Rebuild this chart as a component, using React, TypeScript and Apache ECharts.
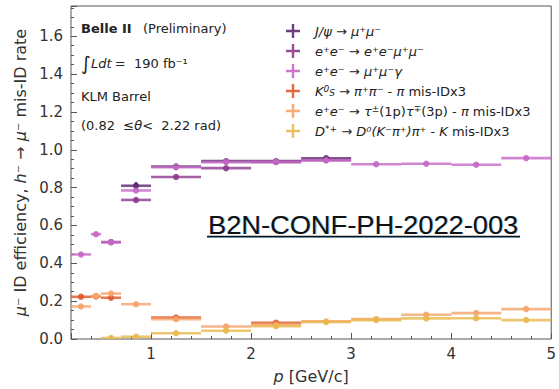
import React, { useEffect, useRef } from "react";
import * as echarts from "echarts";

// ---- data ----
const binCenters = [0.3, 0.45, 0.6, 0.85, 1.25, 1.75, 2.25, 2.75, 3.25, 3.75, 4.25, 4.75];
const binLows = [0.2, 0.4, 0.5, 0.7, 1.0, 1.5, 2.0, 2.5, 3.0, 3.5, 4.0, 4.5];
const binHighs = [0.4, 0.5, 0.7, 1.0, 1.5, 2.0, 2.5, 3.0, 3.5, 4.0, 4.5, 5.0];

const jpsiValues = [null, null, null, 0.81, 0.912, 0.94, 0.94, 0.955, null, null, null, null];
const jpsiErrors = [0, 0, 0, 0.02, 0.008, 0.005, 0.005, 0.01, 0, 0, 0, 0];
const eeMumuValues = [null, null, 0.512, 0.735, 0.856, 0.903, 0.935, 0.945, null, null, null, null];
const mumuGammaValues = [0.447, 0.554, 0.512, 0.785, 0.908, 0.935, 0.937, 0.945, 0.924, 0.926, 0.921, 0.956];
const ksValues = [0.223, 0.225, 0.218, null, 0.113, null, 0.086, null, null, null, null, null];
const tauValues = [0.172, 0.228, 0.24, 0.184, 0.105, 0.066, 0.075, 0.093, 0.105, 0.128, 0.137, 0.158];
const dstarValues = [null, null, 0.005, 0.012, 0.03, 0.044, 0.068, 0.09, 0.1, 0.109, 0.11, 0.1];
const noErrors = [0, 0, 0, 0, 0, 0, 0, 0, 0, 0, 0, 0];

const seriesNames = [
  "J/ψ → μ⁺μ⁻",
  "e⁺e⁻ → e⁺e⁻μ⁺μ⁻",
  "e⁺e⁻ → μ⁺μ⁻γ",
  "K⁰S → π⁺π⁻ - π mis-IDx3",
  "e⁺e⁻ → τ±(1p)τ∓(3p) - π mis-IDx3",
  "D*⁺ → D⁰(K⁻π⁺)π⁺ - K mis-IDx3",
];
const seriesValues = [jpsiValues, eeMumuValues, mumuGammaValues, ksValues, tauValues, dstarValues];
const seriesErrors = [jpsiErrors, noErrors, noErrors, noErrors, noErrors, noErrors];

// ---- styles ----
const colors = ["#5e2a6e", "#8c3a8e", "#c468c6", "#e0582a", "#f5a46c", "#e8b84e"];
const FONT = "DejaVu Sans";

const legendRich: Record<string, string> = {
  [seriesNames[0]]: "{i|J/ψ → μ⁺μ⁻}",
  [seriesNames[1]]: "{i|e⁺e⁻ → e⁺e⁻μ⁺μ⁻}",
  [seriesNames[2]]: "{i|e⁺e⁻ → μ⁺μ⁻γ}",
  [seriesNames[3]]: "{i|K}{sup|0}{sub|S}{i| → π⁺π⁻}{n| - }{i|π}{n| mis-IDx3}",
  [seriesNames[4]]: "{i|e⁺e⁻ → τ}{sup|±}{n|(1p)}{i|τ}{sup|∓}{n|(3p) - }{i|π}{n| mis-IDx3}",
  [seriesNames[5]]: "{i|D}{sup|*+}{i| → D⁰(K⁻π⁺)π⁺}{n| - }{i|K}{n| mis-IDx3}",
};

function buildData(values: (number | null)[], errors: number[]) {
  const out: number[][] = [];
  binCenters.forEach((c, i) => {
    const v = values[i];
    if (v !== null && v !== undefined) out.push([c, v, binLows[i], binHighs[i], errors[i]]);
  });
  return out;
}

function makeRender(color: string) {
  return (params: any, api: any) => {
    const x = api.value(0);
    const y = api.value(1);
    const lo = api.value(2);
    const hi = api.value(3);
    const e = api.value(4);
    const c = api.coord([x, y]);
    const l = api.coord([lo, y]);
    const h = api.coord([hi, y]);
    const children: any[] = [
      {
        type: "line",
        shape: { x1: l[0], y1: l[1], x2: h[0], y2: h[1] },
        style: { stroke: color, lineWidth: 2.6, opacity: 0.8 },
      },
    ];
    if (e > 0) {
      const t = api.coord([x, y + e]);
      const b = api.coord([x, y - e]);
      children.push({
        type: "line",
        shape: { x1: t[0], y1: t[1], x2: b[0], y2: b[1] },
        style: { stroke: color, lineWidth: 2.4, opacity: 0.85 },
      });
    }
    children.push({
      type: "circle",
      shape: { cx: c[0], cy: c[1], r: 3.2 },
      style: { fill: color, opacity: 0.9 },
    });
    return { type: "group", children };
  };
}

const crossIcon = "path://M0,5.8H14V8.2H0Z M5.8,0H8.2V14H5.8Z";

export default function App() {
  const ref = useRef<HTMLDivElement>(null);
  useEffect(() => {
    if (!ref.current) return;
    const chart = echarts.init(ref.current, undefined, { renderer: "svg" });
    const textColor = "#333";
    const option: any = {
      animation: false,
      backgroundColor: "#ffffff",
      grid: {
        left: 71,
        right: 2.5,
        top: 6,
        bottom: 49,
        show: true,
        borderColor: "#555",
        borderWidth: 1,
      },
      xAxis: {
        type: "value",
        min: 0.2,
        max: 5,
        minInterval: 1,
        maxInterval: 1,
        name: "{i|p} [GeV/c]",
        nameLocation: "middle",
        nameGap: 29,
        nameTextStyle: {
          fontFamily: FONT,
          fontSize: 16,
          color: textColor,
          rich: { i: { fontFamily: FONT, fontSize: 16, fontStyle: "italic", color: textColor } },
        },
        axisLine: { show: false },
        axisTick: { inside: true, length: 6, lineStyle: { color: "#555" } },
        minorTick: { show: true, splitNumber: 5, length: 3, lineStyle: { color: "#555" } },
        splitLine: { show: false },
        axisLabel: {
          margin: 7,
          fontFamily: FONT,
          fontSize: 15,
          color: textColor,
          showMinLabel: false,
          formatter: (v: number) => (Math.abs(v - Math.round(v)) < 1e-6 ? String(Math.round(v)) : ""),
        },
      },
      yAxis: {
        type: "value",
        min: 0,
        max: 1.76,
        interval: 0.2,
        name: "{i|μ}⁻ ID efficiency, {i|h}⁻ → {i|μ}⁻ mis-ID rate",
        nameLocation: "middle",
        nameGap: 42,
        nameTextStyle: {
          fontFamily: FONT,
          fontSize: 16,
          color: textColor,
          rich: { i: { fontFamily: FONT, fontSize: 16, fontStyle: "italic", color: textColor } },
        },
        axisLine: { show: false },
        axisTick: { inside: true, length: 6, lineStyle: { color: "#555" } },
        minorTick: { show: true, splitNumber: 4, length: 3, lineStyle: { color: "#555" } },
        splitLine: { show: false },
        axisLabel: {
          margin: 8,
          fontFamily: FONT,
          fontSize: 15,
          color: textColor,
          showMaxLabel: false,
          formatter: (v: number) =>
            Math.abs(v * 5 - Math.round(v * 5)) < 1e-6 ? v.toFixed(1) : "",
        },
      },
      legend: {
        orient: "vertical",
        left: 281,
        top: 19,
        itemWidth: 14,
        itemHeight: 14,
        itemGap: 6,
        icon: crossIcon,
        selectedMode: false,
        data: seriesNames,
        itemStyle: { opacity: 0.9 },
        formatter: (name: string) => legendRich[name] || name,
        textStyle: {
          fontFamily: FONT,
          fontSize: 13,
          color: "#222",
          padding: [0, 0, 0, 10],
          rich: {
            i: { fontFamily: FONT, fontSize: 13, fontStyle: "italic", color: "#222" },
            n: { fontFamily: FONT, fontSize: 13, color: "#222" },
            sup: { fontFamily: FONT, fontSize: 9, fontStyle: "italic", color: "#222", verticalAlign: "top" },
            sub: { fontFamily: FONT, fontSize: 9, fontStyle: "italic", color: "#222", verticalAlign: "bottom" },
          },
        },
      },
      series: seriesNames.map((name, k) => ({
        type: "custom",
        name,
        clip: true,
        itemStyle: { color: colors[k] },
        encode: { x: 0, y: 1 },
        data: buildData(seriesValues[k], seriesErrors[k]),
        renderItem: makeRender(colors[k]),
        z: 2 + k,
      })),
      graphic: [
        {
          type: "text",
          x: 81,
          y: 28,
          style: {
            text: "Belle II",
            verticalAlign: "middle",
            fontFamily: FONT,
            fontSize: 13,
            fontWeight: "bold",
            fill: "#222",
          },
        },
        {
          type: "text",
          x: 143,
          y: 28,
          style: {
            text: "(Preliminary)",
            verticalAlign: "middle",
            fontFamily: FONT,
            fontSize: 13,
            fill: "#222",
          },
        },
        {
          type: "text",
          x: 81,
          y: 63,
          style: {
            text: "{int|∫}{i|Ldt} {n|=  190 fb⁻¹}",
            verticalAlign: "middle",
            rich: {
              int: { fontFamily: FONT, fontSize: 19, fontStyle: "italic", fill: "#222" },
              i: { fontFamily: FONT, fontSize: 13, fontStyle: "italic", fill: "#222" },
              n: { fontFamily: FONT, fontSize: 13, fill: "#222" },
            },
          },
        },
        {
          type: "text",
          x: 81,
          y: 96,
          style: { text: "KLM Barrel", verticalAlign: "middle", fontFamily: FONT, fontSize: 13, fill: "#222" },
        },
        {
          type: "text",
          x: 81,
          y: 125,
          style: {
            text: "{n|(0.82  ≤}{i|θ}{n|<  2.22 rad)}",
            verticalAlign: "middle",
            rich: {
              i: { fontFamily: FONT, fontSize: 13, fontStyle: "italic", fill: "#222" },
              n: { fontFamily: FONT, fontSize: 13, fill: "#222" },
            },
          },
        },
        {
          type: "text",
          x: 208.8,
          y: 225.8,
          scaleX: 1.09,
          style: {
            text: "B2N-CONF-PH-2022-003",
            verticalAlign: "middle",
            fontFamily: "Liberation Sans",
            fontSize: 25,
            fill: "rgba(70,160,225,0.7)",
          },
        },
        {
          type: "text",
          x: 208,
          y: 225,
          scaleX: 1.09,
          style: {
            text: "B2N-CONF-PH-2022-003",
            verticalAlign: "middle",
            fontFamily: "Liberation Sans",
            fontSize: 25,
            fill: "#111",
          },
        },
        {
          type: "line",
          shape: { x1: 207, y1: 237.5, x2: 520, y2: 237.5 },
          style: { stroke: "rgba(70,160,225,0.7)", lineWidth: 1.2 },
        },
        {
          type: "line",
          shape: { x1: 207, y1: 236.5, x2: 520, y2: 236.5 },
          style: { stroke: "#111", lineWidth: 1.4 },
        },
      ],
    };
    chart.setOption(option);
    return () => chart.dispose();
  }, []);
  return (
    <div
      ref={ref}
      style={{ position: "fixed", left: 0, top: 0, width: 559, height: 389, background: "#fff" }}
    />
  );
}
